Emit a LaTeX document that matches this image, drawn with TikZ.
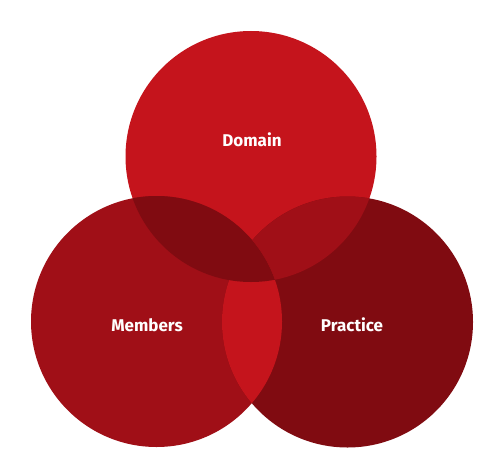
\documentclass[tikz,border=0pt]{standalone}
\usepackage{fontspec}
\setmainfont{Fira Sans}
\definecolor{brightred}{HTML}{C5141C}
\definecolor{midred}{HTML}{A00F17}
\definecolor{darkred}{HTML}{800B11}
\tikzset{
	setlabel/.style={text=white, font=\fontsize{17}{20}\selectfont\bfseries}
}
\begin{document}
\begin{tikzpicture}[x=1pt, y=-1pt]
	\useasboundingbox (0, 0) rectangle (500, 460);
	\coordinate (dom) at (251, 156.5);
	\coordinate (mem) at (156.5, 321.5);
	\coordinate (pra) at (347.5, 322);
	\def\rad{125.5}
	% the three sets
	\fill[brightred] (dom) circle (\rad);
	\fill[midred] (mem) circle (\rad);
	\fill[darkred] (pra) circle (\rad);
	% overlaps
	\begin{scope}
		\clip (dom) circle (\rad);
		\fill[midred] (pra) circle (\rad);
	\end{scope}
	\begin{scope}
		\clip (mem) circle (\rad);
		\fill[brightred] (pra) circle (\rad);
	\end{scope}
	% domain and members, centre included
	\begin{scope}
		\clip (dom) circle (\rad);
		\fill[darkred] (mem) circle (\rad);
	\end{scope}
	\node[setlabel] (domain) at (252, 140) {Domain};
	\node[setlabel] (members) at (147, 325) {Members};
	\node[setlabel] (practice) at (352, 325) {Practice};
\end{tikzpicture}
\end{document}
